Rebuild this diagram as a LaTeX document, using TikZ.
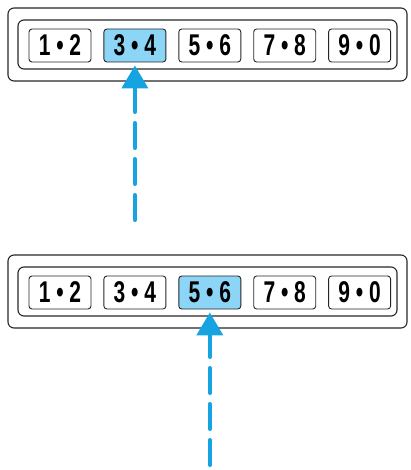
\documentclass[tikz,border=0pt]{standalone}
\usepackage{fontspec}
\setmainfont{Liberation Sans}
\usetikzlibrary{arrows.meta,positioning}
\definecolor{pickblue}{RGB}{141,213,246}
\definecolor{arrowblue}{RGB}{22,163,226}
\newcommand{\pair}[2]{\scalebox{0.7}[1]{\bfseries #1 • #2}}
\tikzset{
  frame/.style={draw=black!85, line width=1.1pt, rounded corners=6pt},
  cell/.style={draw=black!85, line width=0.9pt, rounded corners=3pt,
    minimum width=62pt, minimum height=33pt, inner sep=0pt,
    font=\fontsize{30}{31}\selectfont},
  pick/.style={cell, fill=pickblue},
  pointer/.style={-{Triangle[length=23pt,width=26pt]}, arrowblue,
    line width=4pt, line cap=round, dash pattern=on 25pt off 11pt,
    shorten >=3pt}
}
\begin{document}
\begin{tikzpicture}[x=1pt,y=-1pt]
  \useasboundingbox (0,0) rectangle (410,470);

  % upper selector
  \draw[frame] (8,8) rectangle (407,81);
  \draw[frame] (18,20) rectangle (397,69);
  \node[cell] (a12) at (60,45.5) {\pair{1}{2}};
  \node[pick,right=12pt of a12] (a34) {\pair{3}{4}};
  \node[cell,right=12pt of a34] (a56) {\pair{5}{6}};
  \node[cell,right=12pt of a56] (a78) {\pair{7}{8}};
  \node[cell,right=12pt of a78] (a90) {\pair{9}{0}};
  \coordinate (a-foot) at (a34.south |- 0,220);
  \draw[pointer] (a-foot) -- (a34.south);

  % lower selector
  \draw[frame] (8,255) rectangle (407,328);
  \draw[frame] (18,267) rectangle (397,316);
  \node[cell] (b12) at (60,292.5) {\pair{1}{2}};
  \node[cell,right=12pt of b12] (b34) {\pair{3}{4}};
  \node[pick,right=12pt of b34] (b56) {\pair{5}{6}};
  \node[cell,right=12pt of b56] (b78) {\pair{7}{8}};
  \node[cell,right=12pt of b78] (b90) {\pair{9}{0}};
  \coordinate (b-foot) at (b56.south |- 0,465);
  \draw[pointer] (b-foot) -- (b56.south);
\end{tikzpicture}
\end{document}
